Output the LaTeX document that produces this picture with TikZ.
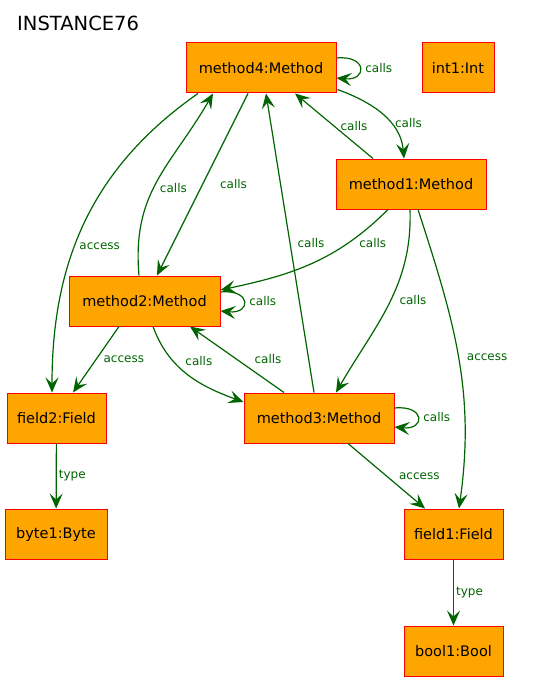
\documentclass[tikz,border=0pt]{standalone}
\usepackage{fontspec}
\setmainfont{DejaVu Sans}
\usetikzlibrary{arrows.meta}

\definecolor{boxfill}{HTML}{FFA500}
\definecolor{boxline}{HTML}{FF0000}
\definecolor{relgreen}{HTML}{006400}

\tikzset{
    obj/.style={draw=boxline, fill=boxfill, line width=1pt, minimum height=50pt,
        inner xsep=8pt, font=\fontsize{14.5}{17}\selectfont},
    rel/.style={relgreen, line width=1.2pt,
        -{Stealth[length=15pt, width=13pt, inset=6pt]}},
    lbl/.style={text=relgreen, inner sep=2pt, font=\fontsize{12}{14}\selectfont},
}

\begin{document}
\begin{tikzpicture}[x=1pt, y=-1pt]
                \useasboundingbox (0, 0) rectangle (542, 682);

                % Title
                \node[anchor=west, inner sep=0pt, font=\fontsize{19.5}{22}\selectfont] (title) at (17, 23) {INSTANCE76};

                % Define the objects
                \node[obj, minimum width=150pt] (m4) at (261, 68) {method4:Method};
                \node[obj, minimum width=72pt] (i1) at (458, 68) {int1:Int};
                \node[obj, minimum width=150pt] (m1) at (411, 184) {method1:Method};
                \node[obj, minimum width=151pt] (m2) at (144.5, 301) {method2:Method};
                \node[obj, minimum width=99pt] (f2) at (56.5, 418) {field2:Field};
                \node[obj, minimum width=150pt] (m3) at (319, 418) {method3:Method};
                \node[obj, minimum width=102pt] (b1) at (56, 534) {byte1:Byte};
                \node[obj, minimum width=99pt] (f1) at (453.5, 534) {field1:Field};
                \node[obj, minimum width=99pt] (bo1) at (453.5, 651) {bool1:Bool};

                % Calls out of method4
                \draw[rel] ([yshift=10pt]m4.east) .. controls +(31pt, 3pt) and +(31pt, -3pt) .. ([yshift=-10pt]m4.east)
                    node[lbl, midway, right=3pt] (l1) {calls};
                \draw[rel] ([xshift=1pt, yshift=4pt]m4.south east) to[out=-20, in=95]
                    node[lbl, pos=0.62, right=2pt] (l2) {calls} ([xshift=-7pt]m1.north);
                \draw[rel] ([xshift=-13pt]m4.south) -- node[lbl, midway, right=15pt] (l4) {calls} ([xshift=12.5pt]m2.north);
                \draw[rel] ([xshift=-63pt]m4.south) to[out=-145, in=90]
                    node[lbl, pos=0.58, right=2pt] (l6) {access} ([xshift=-4.5pt]f2.north);

                % Calls out of method1
                \draw[rel] ([xshift=-38pt]m1.north) -- node[lbl, midway, right=4pt] (l3) {calls} ([xshift=34pt]m4.south);
                \draw[rel] ([xshift=-23pt]m1.south) to[out=-135, in=12]
                    node[lbl, pos=0.1, below=12pt] (l8) {calls} ([yshift=11pt]m2.east);
                \draw[rel] ([xshift=-1pt]m1.south) to[out=-88, in=60]
                    node[lbl, pos=0.47, right=6pt] (l9) {calls} ([xshift=17pt]m3.north);
                \draw[rel] ([xshift=7pt]m1.south) to[out=-72, in=82]
                    node[lbl, pos=0.5, right=6pt] (l10) {access} ([xshift=5.5pt]f1.north);

                % Calls out of method2
                \draw[rel] ([xshift=-5.5pt]m2.north) to[out=95, in=-120, looseness=1.1]
                    node[lbl, pos=0.45, right=4pt] (l5) {calls} ([xshift=-48pt]m4.south);
                \draw[rel] ([yshift=9pt]m2.east) .. controls +(31pt, 3pt) and +(31pt, -3pt) .. ([yshift=-10pt]m2.east)
                    node[lbl, midway, right=3pt] (l11) {calls};
                \draw[rel] ([xshift=-25.5pt]m2.south) -- node[lbl, midway, right=5pt] (l12) {access} ([xshift=16.5pt]f2.north);
                \draw[rel] ([xshift=8.5pt]m2.south) to[out=-70, in=160]
                    node[lbl, pos=0.32, right=10pt] (l13) {calls} ([yshift=16pt]m3.west);

                % Calls out of method3
                \draw[rel] ([xshift=-5pt]m3.north) -- node[lbl, midway, right=5pt] (l7) {calls} ([xshift=5pt]m4.south);
                \draw[rel] ([xshift=-35pt]m3.north) -- node[lbl, midway, right=15pt] (l14) {calls} ([xshift=45.5pt]m2.south);
                \draw[rel] ([yshift=10pt]m3.east) .. controls +(31pt, 3pt) and +(31pt, -3pt) .. ([yshift=-9pt]m3.east)
                    node[lbl, midway, right=3pt] (l15) {calls};
                \draw[rel] ([xshift=29pt]m3.south) -- node[lbl, midway, right=10pt] (l16) {access} ([xshift=-28.5pt]f1.north);

                % Field types
                \draw[rel] (f2) -- node[lbl, midway, right] (l17) {type} (b1);
                \draw[rel] (f1) -- node[lbl, midway, right] (l18) {type} (bo1);
            \end{tikzpicture}
\end{document}
